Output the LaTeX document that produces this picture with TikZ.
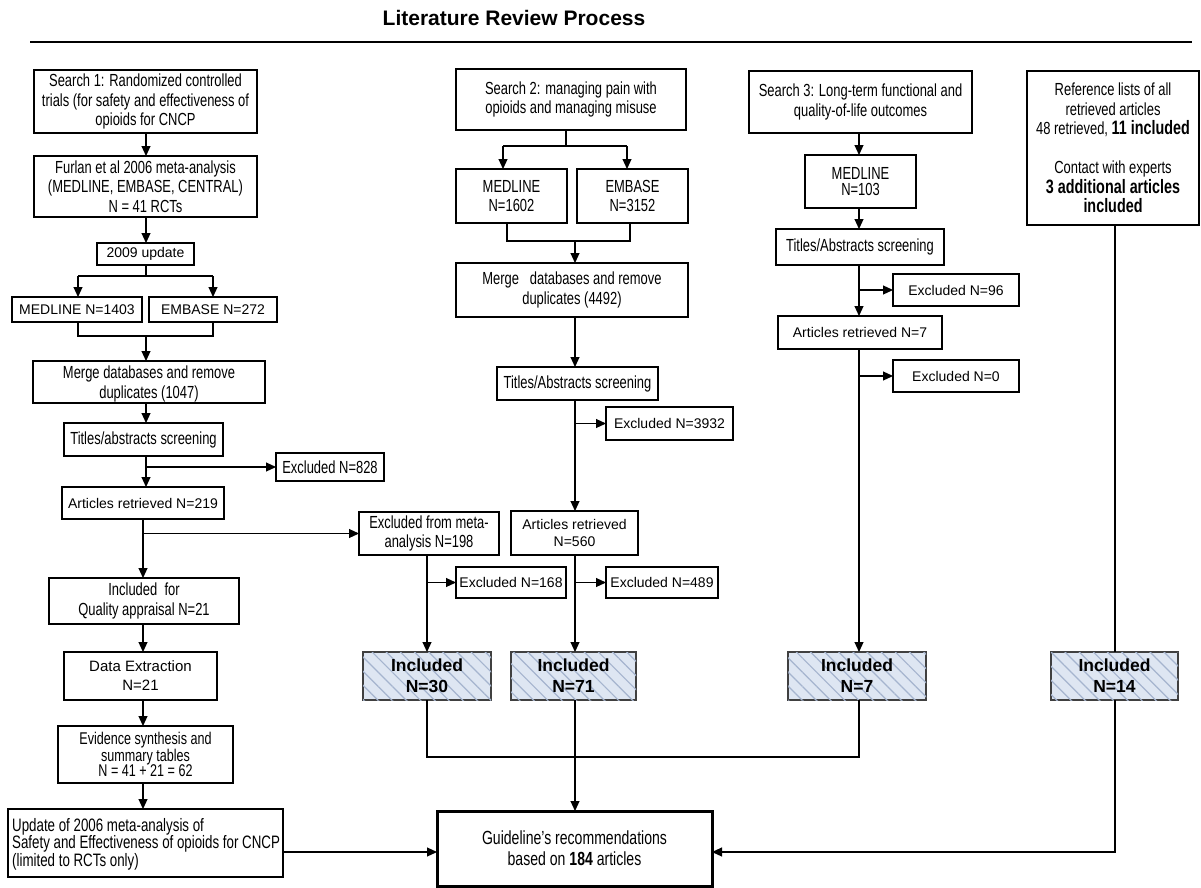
\documentclass[tikz,border=0pt]{standalone}
\usepackage{fontspec}
\setmainfont{Liberation Sans}
\newfontfamily\nar[FakeStretch=0.74]{Liberation Sans}
\usetikzlibrary{arrows.meta,patterns.meta}
\definecolor{inclfill}{RGB}{222,230,242}
\definecolor{inclline}{RGB}{165,180,206}
\newcommand\bx[7]{\node[#6, minimum width={(#4-#2)*1pt}, minimum height={(#5-#3)*1pt}] (#1) at ({(#2+#4)/2},{(#3+#5)/2}) {#7};}
\tikzset{
  box/.style={draw, line width=1.1pt, inner sep=0pt, outer sep=0pt, align=center},
  nt/.style={box, font=\nar\fontsize{17.5}{19.5}\selectfont},
  rt/.style={box, font=\fontsize{14}{17}\selectfont},
  incl/.style={box, draw=black!75, fill=inclfill,
    postaction={pattern={Lines[angle=-45,distance=10pt,line width=1.2pt]}, pattern color=inclline},
    font=\bfseries\fontsize{17.5}{21}\selectfont},
  arr/.style={line width=1.1pt, -{Triangle[length=10pt,width=9pt]}},
  ln/.style={line width=1.1pt}
}
\begin{document}
\begin{tikzpicture}[x=1pt,y=-1pt]
\useasboundingbox (0,0) rectangle (1201,888);
% title
\node[font=\bfseries\fontsize{21}{24}\selectfont] (title) at (514,18) {Literature Review Process};
\draw[line width=1.4pt] (30,42) -- (1192,42);

% column coordinates
\coordinate (c1) at (146,0);
\coordinate (c1b) at (143,0);
\coordinate (m1) at (78,0);
\coordinate (e1) at (213,0);
\coordinate (c2a) at (566,0);
\coordinate (m2) at (503,0);
\coordinate (e2) at (627,0);
\coordinate (m2b) at (507,0);
\coordinate (e2b) at (630,0);
\coordinate (c2) at (575,0);
\coordinate (c2m) at (427,0);
\coordinate (c3) at (859,0);
\coordinate (c4) at (1115,0);
% row coordinates
\coordinate (r1) at (0,276);
\coordinate (r2) at (0,336);
\coordinate (r3) at (0,146);
\coordinate (r4) at (0,241);
\coordinate (r5) at (0,757);
\coordinate (r9) at (0,852);

% ---- Search 1
\bx{s1}{34}{70}{257}{133}{nt}{Search 1: Randomized controlled\\trials (for safety and effectiveness of\\opioids for CNCP}
\bx{furlan}{34}{156}{257}{217}{nt}{Furlan et al 2006 meta-analysis\\(MEDLINE, EMBASE, CENTRAL)\\N = 41 RCTs}
\bx{upd09}{97}{243}{194}{265}{rt}{2009 update}
\bx{med1}{12}{297}{142}{322}{rt}{MEDLINE N=1403}
\bx{emb1}{149}{297}{277}{322}{rt}{EMBASE N=272}
\bx{merge1}{33}{358}{265}{400}{nt, text depth=0pt, yshift=-3pt}{Merge databases and remove\\duplicates (1047)}
\bx{tit1}{64}{423}{223}{456}{nt}{Titles/abstracts screening}
\bx{exc828}{276}{453}{384}{481}{nt}{Excluded N=828}
\bx{art219}{62}{487}{224}{519}{rt}{Articles retrieved N=219}
\bx{exmeta}{359}{512}{499}{555}{nt}{Excluded from meta-\\analysis N=198}
\bx{incl1}{49}{578}{239}{624}{nt}{Included\ \ for\\Quality appraisal N=21}
\bx{data}{64}{652}{217}{700}{box, font=\fontsize{15}{19}\selectfont}{Data Extraction\\N=21}
\bx{evid}{58}{726}{233}{783}{box, font=\nar\fontsize{17}{16.5}\selectfont}{Evidence synthesis and\\summary tables\\[-1.5pt]N = 41 + 21 = 62}
\bx{update06}{8}{809}{283}{877}{box}{}
\node[anchor=west, align=left, inner sep=0pt, font=\nar\fontsize{18}{17.5}\selectfont] (update06t) at ([xshift=4pt,yshift=-1pt]update06.west) {Update of 2006 meta-analysis of\\Safety and Effectiveness of opioids for CNCP\\(limited to RCTs only)};

% ---- Search 2
\bx{s2}{456}{69}{686}{130}{nt}{Search 2: managing pain with\\opioids and managing misuse}
\bx{med2}{456}{169}{567}{223}{nt}{MEDLINE\\N=1602}
\bx{emb2}{577}{169}{688}{223}{nt}{EMBASE\\N=3152}
\bx{merge2}{456}{263}{688}{317}{nt}{Merge\ \ \ databases and remove\\duplicates (4492)}
\bx{tit2}{497}{367}{658}{400}{nt}{Titles/Abstracts screening}
\bx{exc3932}{606}{407}{733}{440}{rt}{Excluded N=3932}
\bx{art560}{511}{511}{638}{555}{rt}{Articles retrieved\\N=560}
\bx{exc168}{456}{567}{566}{598}{rt}{Excluded N=168}
\bx{exc489}{606}{567}{718}{598}{rt}{Excluded N=489}
\bx{inc30}{363}{652}{491}{700}{incl}{Included\\N=30}
\bx{inc71}{511}{652}{636}{700}{incl}{Included\\N=71}

% ---- Search 3
\bx{s3}{749}{71}{972}{133}{nt}{Search 3: Long-term functional and\\quality-of-life outcomes}
\bx{med3}{805}{155}{916}{208}{box, font=\nar\fontsize{17.5}{16}\selectfont}{MEDLINE\\N=103}
\bx{tit3}{776}{229}{944}{265}{nt}{Titles/Abstracts screening}
\bx{exc96}{893}{274}{1019}{306}{rt}{Excluded N=96}
\bx{art7}{778}{316}{942}{349}{rt}{Articles retrieved N=7}
\bx{exc0}{893}{360}{1019}{392}{rt}{Excluded N=0}
\bx{inc7}{788}{652}{926}{700}{incl}{Included\\N=7}

% ---- References
\bx{ref}{1027}{71}{1199}{225}{nt}{Reference lists of all\\retrieved articles\\48 retrieved, {\bfseries\fontsize{19.4}{20}\selectfont 11 included}\\[19.5pt]Contact with experts\\{\bfseries\fontsize{19.4}{20}\selectfont 3 additional articles}\\{\bfseries\fontsize{19.4}{20}\selectfont included}}
\bx{inc14}{1051}{652}{1178}{700}{incl}{Included\\N=14}

% ---- Guideline
\bx{guide}{437}{811}{712}{886}{box, line width=3pt, font=\nar\fontsize{19}{21}\selectfont}{Guideline’s recommendations\\based on \textbf{184} articles}

% ---- connectors, column 1
\draw[arr] (c1 |- s1.south) -- (c1 |- furlan.north);
\draw[arr] (c1 |- furlan.south) -- (c1 |- upd09.north);
\draw[ln] (c1 |- upd09.south) -- (c1 |- r1);
\draw[ln] (m1 |- r1) -- (e1 |- r1);
\draw[arr] (m1 |- r1) -- (m1 |- med1.north);
\draw[arr] (e1 |- r1) -- (e1 |- emb1.north);
\draw[ln] (m1 |- med1.south) -- (m1 |- r2) -- (e1 |- r2) -- (e1 |- emb1.south);
\draw[arr] (c1 |- r2) -- (c1 |- merge1.north);
\draw[arr] (c1 |- merge1.south) -- (c1 |- tit1.north);
\draw[arr] (c1 |- tit1.south) -- (c1 |- art219.north);
\draw[arr] (c1 |- exc828.west) -- (exc828.west);
\draw[arr] (c1b |- art219.south) -- (c1b |- incl1.north);
\draw[arr] (c1b |- exmeta.west) -- (exmeta.west);
\draw[arr] (c1b |- incl1.south) -- (c1b |- data.north);
\draw[arr] (c1b |- data.south) -- (c1b |- evid.north);
\draw[arr] (c1b |- evid.south) -- (c1b |- update06.north);
\draw[arr] (update06.east |- r9) -- (guide.west |- r9);

% ---- column 2
\draw[ln] (c2a |- s2.south) -- (c2a |- r3);
\draw[ln] (m2 |- r3) -- (e2 |- r3);
\draw[arr] (m2 |- r3) -- (m2 |- med2.north);
\draw[arr] (e2 |- r3) -- (e2 |- emb2.north);
\draw[ln] (m2b |- med2.south) -- (m2b |- r4) -- (e2b |- r4) -- (e2b |- emb2.south);
\draw[arr] (c2 |- r4) -- (c2 |- merge2.north);
\draw[arr] (c2 |- merge2.south) -- (c2 |- tit2.north);
\draw[arr] (c2 |- tit2.south) -- (c2 |- art560.north);
\draw[arr] (c2 |- exc3932.west) -- (exc3932.west);
\draw[arr] (c2 |- art560.south) -- (c2 |- inc71.north);
\draw[arr] (c2 |- exc489.west) -- (exc489.west);
\draw[arr] (c2m |- exmeta.south) -- (c2m |- inc30.north);
\draw[arr] (c2m |- exc168.west) -- (exc168.west);
\draw[ln] (c2m |- inc30.south) -- (c2m |- r5) -- (c3 |- r5) -- (c3 |- inc7.south);
\draw[arr] (c2 |- inc71.south) -- (c2 |- guide.north);

% ---- column 3
\draw[arr] (c3 |- s3.south) -- (c3 |- med3.north);
\draw[arr] (c3 |- med3.south) -- (c3 |- tit3.north);
\draw[arr] (c3 |- tit3.south) -- (c3 |- art7.north);
\draw[arr] (c3 |- exc96.west) -- (exc96.west);
\draw[arr] (c3 |- art7.south) -- (c3 |- inc7.north);
\draw[arr] (c3 |- exc0.west) -- (exc0.west);

% ---- column 4
\draw[ln] (c4 |- ref.south) -- (c4 |- inc14.north);
\draw[arr] (c4 |- inc14.south) -- (c4 |- r9) -- (guide.east |- r9);
\end{tikzpicture}
\end{document}
